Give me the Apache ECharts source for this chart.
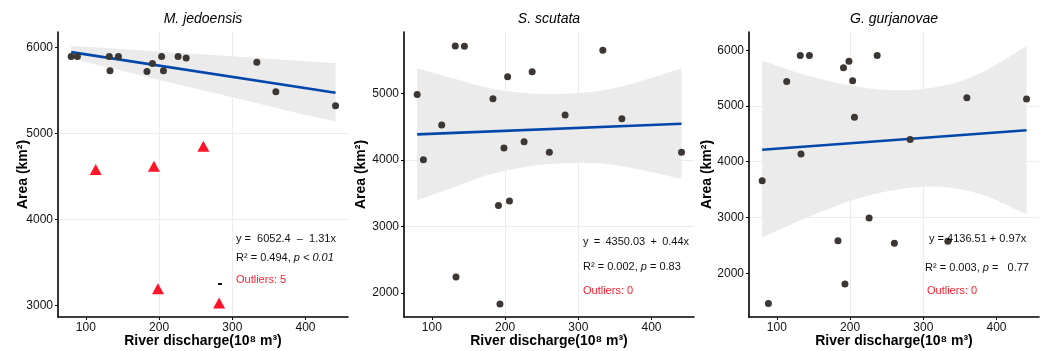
<!DOCTYPE html>
<html><head><meta charset="utf-8">
<script src="https://cdn.jsdelivr.net/npm/echarts@6/dist/echarts.min.js"></script>
<style>html,body{margin:0;padding:0;background:#fff}#c{width:1046px;height:351px}</style>
</head><body><div id="c"></div>
<script>
// ---------- data ----------
const panelTitles = ['M. jedoensis', 'S. scutata', 'G. gurjanovae'];
const xTickValues = [100, 200, 300, 400];
const yTickValues = [[3000, 4000, 5000, 6000], [2000, 3000, 4000, 5000], [2000, 3000, 4000, 5000, 6000]];

// river discharge (10^8 m3)
const mjX = [80, 88.5, 132, 133, 144.5, 183.5, 191, 203.5, 206, 226, 237, 333.5, 359.5, 441];
const mjY = [5896, 5896, 5896, 5730, 5896, 5722, 5814, 5896, 5730, 5896, 5880, 5830, 5486, 5324];
const mjOutX = [113.5, 193, 198.5, 260.5, 282];
const mjOutY = [4580, 4620, 3194, 4852, 3027];

const ssX = [80, 88.5, 113.5, 132, 133, 144.5, 183.5, 191, 193, 198.5, 203.5, 206, 226, 237, 260.5, 282, 333.5, 359.5, 441];
const ssY = [4985, 4005, 4525, 5714, 2240, 5709, 4920, 3315, 1835, 4180, 5250, 3385, 4275, 5325, 4115, 4675, 5650, 4620, 4115];

const ggX = [80, 88.5, 113.5, 132, 133, 144.5, 183.5, 191, 193, 198.5, 203.5, 206, 226, 237, 260.5, 282, 333.5, 359.5, 441];
const ggY = [3660, 1457, 5441, 5905, 4137, 5905, 2582, 5684, 1804, 5804, 5452, 4798, 2990, 5905, 2536, 4400, 2571, 5148, 5125];

// fitted lines: intercept, slope (as printed)
const intercepts = [6052.4, 4350.03, 4136.51];
const slopes = [-1.31, 0.44, 0.97];

// confidence band
const bandX = [80, 130, 180, 230, 280, 330, 380, 441];
const mjBandLo = [5870, 5770, 5668, 5565, 5462, 5360, 5257, 5140];
const mjBandHi = [6023, 5995, 5966, 5938, 5910, 5882, 5853, 5819];
const ssBandLo = [3395, 3590, 3785, 3900, 3950, 3950, 3865, 3715];
const ssBandHi = [5375, 5225, 5075, 5005, 4995, 5040, 5170, 5375];
const ggBandLo = [2640, 2936, 3202, 3410, 3530, 3544, 3410, 3055];
const ggBandHi = [5810, 5590, 5420, 5310, 5285, 5370, 5600, 6075];

const eqTexts = ['y =  6052.4  \u2013  1.31x', 'y \u2009= \u20094350.03 \u2009+ \u20090.44x', 'y = 4136.51 + 0.97x'];
const r2Texts = [['R\u00b2 = 0.494, ', 'p < 0.01', ''], ['R\u00b2 = 0.002, ', 'p', ' = 0.83'], ['R\u00b2 = 0.003, ', 'p', ' =   0.77']];
const outlierTexts = ['Outliers: 5', 'Outliers: 0', 'Outliers: 0'];

// ---------- layout ----------
const FONT = '"Liberation Sans", Arial, Helvetica, sans-serif';
const grids = [
  {left: 58, top: 32, width: 290, height: 285, outerBoundsMode: 'none', containLabel: false},
  {left: 404, top: 32, width: 290, height: 285, outerBoundsMode: 'none', containLabel: false},
  {left: 749, top: 32, width: 290, height: 285, outerBoundsMode: 'none', containLabel: false}
];
const xRange = [62, 458];
const yRanges = [[2864, 6182], [1640, 5924], [1214, 6327]];
const yNameGaps = [28, 36, 35];

const ptsX = [mjX, ssX, ggX], ptsY = [mjY, ssY, ggY];
const bandLo = [mjBandLo, ssBandLo, ggBandLo], bandHi = [mjBandHi, ssBandHi, ggBandHi];

// Catmull-Rom -> bezier path through pixel points
function curvePath(pts, moveFirst) {
  let d = moveFirst ? 'M' + pts[0][0] + ',' + pts[0][1] : 'L' + pts[0][0] + ',' + pts[0][1];
  for (let k = 0; k < pts.length - 1; k++) {
    const p0 = pts[Math.max(k - 1, 0)], p1 = pts[k], p2 = pts[k + 1], p3 = pts[Math.min(k + 2, pts.length - 1)];
    const c1 = [p1[0] + (p2[0] - p0[0]) / 6, p1[1] + (p2[1] - p0[1]) / 6];
    const c2 = [p2[0] - (p3[0] - p1[0]) / 6, p2[1] - (p3[1] - p1[1]) / 6];
    d += 'C' + c1[0] + ',' + c1[1] + ' ' + c2[0] + ',' + c2[1] + ' ' + p2[0] + ',' + p2[1];
  }
  return d;
}

const xAxes = [], yAxes = [], series = [], graphics = [];
for (let i = 0; i < 3; i++) {
  xAxes.push({
    gridIndex: i, type: 'value', min: xRange[0], max: xRange[1],
    minInterval: 100, maxInterval: 100,
    name: 'River discharge(10\u2078 m\u00b3)', nameLocation: 'middle', nameGap: 17, nameMoveOverlap: false,
    nameTextStyle: {fontFamily: FONT, fontSize: 14, fontWeight: 'bold', color: '#000'},
    axisLine: {show: true, onZero: false, lineStyle: {color: '#000', width: 1.6}},
    axisTick: {show: true, length: 3, customValues: xTickValues, lineStyle: {color: '#000', width: 1}},
    axisLabel: {customValues: xTickValues, margin: 5, fontFamily: FONT, fontSize: 12, color: '#111', formatter: v => String(v)},
    splitLine: {show: true, showMinLine: false, showMaxLine: false, lineStyle: {color: '#ececec', width: 1}}
  });
  yAxes.push({
    gridIndex: i, type: 'value', min: yRanges[i][0], max: yRanges[i][1],
    minInterval: 1000, maxInterval: 1000,
    name: 'Area (km\u00b2)', nameLocation: 'middle', nameGap: yNameGaps[i], nameMoveOverlap: false,
    nameTextStyle: {fontFamily: FONT, fontSize: 14, fontWeight: 'bold', color: '#000'},
    axisLine: {show: true, onZero: false, lineStyle: {color: '#000', width: 1.6}},
    axisTick: {show: true, length: 3, customValues: yTickValues[i], lineStyle: {color: '#000', width: 1}},
    axisLabel: {customValues: yTickValues[i], margin: 5, fontFamily: FONT, fontSize: 12, color: '#111', formatter: v => String(v)},
    splitLine: {show: true, showMinLine: false, showMaxLine: false, lineStyle: {color: '#ececec', width: 1}}
  });
  // confidence band (custom polygon via axis scales)
  const lo = bandLo[i], hi = bandHi[i];
  series.push({
    type: 'custom', xAxisIndex: i, yAxisIndex: i, silent: true, z: 1,
    data: bandX.map((x, k) => [x, lo[k], hi[k]]),
    renderItem: function (params, api) {
      if (params.dataIndex !== 0) return null;
      const up = bandX.map((x, k) => api.coord([x, hi[k]]));
      const dn = bandX.map((x, k) => api.coord([x, lo[k]])).reverse();
      const d = curvePath(up, true) + curvePath(dn, false) + 'Z';
      return {type: 'path', shape: {pathData: d}, style: {fill: '#ebebeb', stroke: null}};
    }
  });
  // fitted line
  const xs = ptsX[i];
  const x0 = Math.min(...xs), x1 = Math.max(...xs);
  series.push({
    type: 'line', xAxisIndex: i, yAxisIndex: i, symbol: 'none', silent: true,
    lineStyle: {color: '#0047ab', width: 2.6},
    data: [[x0, intercepts[i] + slopes[i] * x0], [x1, intercepts[i] + slopes[i] * x1]], z: 3
  });
  // points
  series.push({
    type: 'scatter', xAxisIndex: i, yAxisIndex: i, symbolSize: 7,
    itemStyle: {color: '#3d3733', opacity: 1},
    data: xs.map((x, k) => [x, ptsY[i][k]]), z: 4
  });
  // titles
  const g = grids[i];
  graphics.push({type: 'text', x: g.left + g.width / 2, y: 19, style: {
    text: panelTitles[i], fontFamily: FONT, fontSize: 14, fontStyle: 'italic', fill: '#000', align: 'center', verticalAlign: 'middle'}});
}
series.push({
  type: 'scatter', xAxisIndex: 0, yAxisIndex: 0, symbol: 'triangle', symbolSize: [12, 11],
  itemStyle: {color: '#ff1428', opacity: 1},
  data: mjOutX.map((x, k) => [x, mjOutY[k]]), z: 5
});

// annotation text positions
const annX = [[236, 236, 236], [583, 583, 583], [929, 925, 927]];
const annY = [[239, 258, 280], [242, 267, 291], [239, 268, 291]];
for (let i = 0; i < 3; i++) {
  const ax = annX[i];
  graphics.push({type: 'text', x: ax[0], y: annY[i][0], z: 10, style: {
    text: eqTexts[i], fontFamily: FONT, fontSize: 11, fill: '#111', verticalAlign: 'middle'}});
  graphics.push({type: 'text', x: ax[1], y: annY[i][1], z: 10, style: {
    text: '{n|' + r2Texts[i][0] + '}{it|' + r2Texts[i][1] + '}{n|' + r2Texts[i][2] + '}',
    verticalAlign: 'middle',
    rich: {n: {fontFamily: FONT, fontSize: 11, fill: '#111', color: '#111'},
           it: {fontFamily: FONT, fontSize: 11, fontStyle: 'italic', fill: '#111', color: '#111'}}}});
  graphics.push({type: 'text', x: ax[2], y: annY[i][2], z: 10, style: {
    text: outlierTexts[i], fontFamily: FONT, fontSize: 11, fill: '#ff2030', verticalAlign: 'middle'}});
}
// small dash mark above last outlier
graphics.push({type: 'rect', shape: {x: 218, y: 283, width: 4, height: 2}, style: {fill: '#111'}, z: 10});

const chart = echarts.init(document.getElementById('c'), null, {renderer: 'canvas'});
chart.setOption({
  backgroundColor: '#fff',
  animation: false,
  grid: grids,
  xAxis: xAxes,
  yAxis: yAxes,
  series: series,
  graphic: graphics
});
</script></body></html>
